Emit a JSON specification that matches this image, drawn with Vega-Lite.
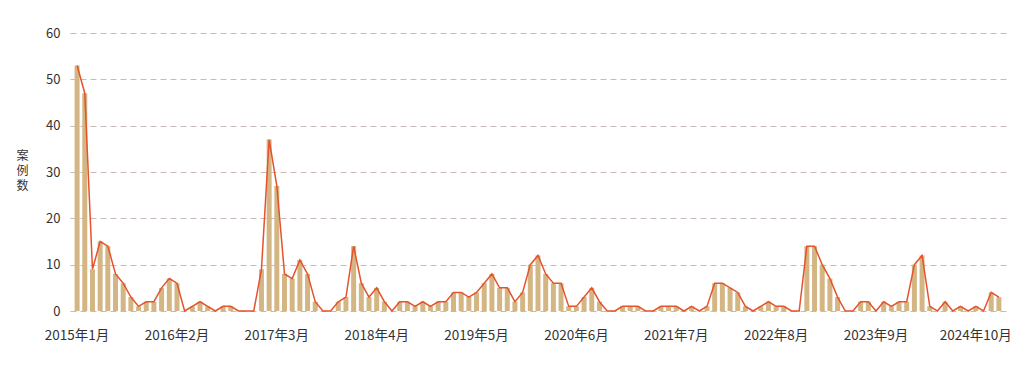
{
  "$schema": "https://vega.github.io/schema/vega-lite/v6.json",
  "width": 936,
  "height": 278,
  "autosize": {"type": "none"},
  "padding": {"left": 70, "top": 33, "right": 18, "bottom": 62},
  "background": "#ffffff",
  "config": {
    "view": {"stroke": null},
    "font": "Noto Sans CJK SC",
    "axis": {"labelFont": "Noto Sans CJK SC", "titleFont": "Noto Sans CJK SC", "labelColor": "#333333", "titleColor": "#333333"}
  },
  "data": {
    "values": [
      {"month": "2015年1月", "value": 53}, {"month": "2015年2月", "value": 47}, {"month": "2015年3月", "value": 9}, {"month": "2015年4月", "value": 15},
      {"month": "2015年5月", "value": 14}, {"month": "2015年6月", "value": 8}, {"month": "2015年7月", "value": 6}, {"month": "2015年8月", "value": 3},
      {"month": "2015年9月", "value": 1}, {"month": "2015年10月", "value": 2}, {"month": "2015年11月", "value": 2}, {"month": "2015年12月", "value": 5},
      {"month": "2016年1月", "value": 7}, {"month": "2016年2月", "value": 6}, {"month": "2016年3月", "value": 0}, {"month": "2016年4月", "value": 1},
      {"month": "2016年5月", "value": 2}, {"month": "2016年6月", "value": 1}, {"month": "2016年7月", "value": 0}, {"month": "2016年8月", "value": 1},
      {"month": "2016年9月", "value": 1}, {"month": "2016年10月", "value": 0}, {"month": "2016年11月", "value": 0}, {"month": "2016年12月", "value": 0},
      {"month": "2017年1月", "value": 9}, {"month": "2017年2月", "value": 37}, {"month": "2017年3月", "value": 27}, {"month": "2017年4月", "value": 8},
      {"month": "2017年5月", "value": 7}, {"month": "2017年6月", "value": 11}, {"month": "2017年7月", "value": 8}, {"month": "2017年8月", "value": 2},
      {"month": "2017年9月", "value": 0}, {"month": "2017年10月", "value": 0}, {"month": "2017年11月", "value": 2}, {"month": "2017年12月", "value": 3},
      {"month": "2018年1月", "value": 14}, {"month": "2018年2月", "value": 6}, {"month": "2018年3月", "value": 3}, {"month": "2018年4月", "value": 5},
      {"month": "2018年5月", "value": 2}, {"month": "2018年6月", "value": 0}, {"month": "2018年7月", "value": 2}, {"month": "2018年8月", "value": 2},
      {"month": "2018年9月", "value": 1}, {"month": "2018年10月", "value": 2}, {"month": "2018年11月", "value": 1}, {"month": "2018年12月", "value": 2},
      {"month": "2019年1月", "value": 2}, {"month": "2019年2月", "value": 4}, {"month": "2019年3月", "value": 4}, {"month": "2019年4月", "value": 3},
      {"month": "2019年5月", "value": 4}, {"month": "2019年6月", "value": 6}, {"month": "2019年7月", "value": 8}, {"month": "2019年8月", "value": 5},
      {"month": "2019年9月", "value": 5}, {"month": "2019年10月", "value": 2}, {"month": "2019年11月", "value": 4}, {"month": "2019年12月", "value": 10},
      {"month": "2020年1月", "value": 12}, {"month": "2020年2月", "value": 8}, {"month": "2020年3月", "value": 6}, {"month": "2020年4月", "value": 6},
      {"month": "2020年5月", "value": 1}, {"month": "2020年6月", "value": 1}, {"month": "2020年7月", "value": 3}, {"month": "2020年8月", "value": 5},
      {"month": "2020年9月", "value": 2}, {"month": "2020年10月", "value": 0}, {"month": "2020年11月", "value": 0}, {"month": "2020年12月", "value": 1},
      {"month": "2021年1月", "value": 1}, {"month": "2021年2月", "value": 1}, {"month": "2021年3月", "value": 0}, {"month": "2021年4月", "value": 0},
      {"month": "2021年5月", "value": 1}, {"month": "2021年6月", "value": 1}, {"month": "2021年7月", "value": 1}, {"month": "2021年8月", "value": 0},
      {"month": "2021年9月", "value": 1}, {"month": "2021年10月", "value": 0}, {"month": "2021年11月", "value": 1}, {"month": "2021年12月", "value": 6},
      {"month": "2022年1月", "value": 6}, {"month": "2022年2月", "value": 5}, {"month": "2022年3月", "value": 4}, {"month": "2022年4月", "value": 1},
      {"month": "2022年5月", "value": 0}, {"month": "2022年6月", "value": 1}, {"month": "2022年7月", "value": 2}, {"month": "2022年8月", "value": 1},
      {"month": "2022年9月", "value": 1}, {"month": "2022年10月", "value": 0}, {"month": "2022年11月", "value": 0}, {"month": "2022年12月", "value": 14},
      {"month": "2023年1月", "value": 14}, {"month": "2023年2月", "value": 10}, {"month": "2023年3月", "value": 7}, {"month": "2023年4月", "value": 3},
      {"month": "2023年5月", "value": 0}, {"month": "2023年6月", "value": 0}, {"month": "2023年7月", "value": 2}, {"month": "2023年8月", "value": 2},
      {"month": "2023年9月", "value": 0}, {"month": "2023年10月", "value": 2}, {"month": "2023年11月", "value": 1}, {"month": "2023年12月", "value": 2},
      {"month": "2024年1月", "value": 2}, {"month": "2024年2月", "value": 10}, {"month": "2024年3月", "value": 12}, {"month": "2024年4月", "value": 1},
      {"month": "2024年5月", "value": 0}, {"month": "2024年6月", "value": 2}, {"month": "2024年7月", "value": 0}, {"month": "2024年8月", "value": 1},
      {"month": "2024年9月", "value": 0}, {"month": "2024年10月", "value": 1}, {"month": "2024年11月", "value": 0}, {"month": "2024年12月", "value": 4},
      {"month": "2025年1月", "value": 3}
    ]
  },
  "encoding": {
    "x": {
      "field": "month",
      "type": "ordinal",
      "sort": null,
      "scale": {"paddingInner": 0.35, "paddingOuter": 0.6},
      "axis": {
        "title": null,
        "values": ["2015年1月", "2016年2月", "2017年3月", "2018年4月", "2019年5月", "2020年6月", "2021年7月", "2022年8月", "2023年9月", "2024年10月"],
        "labelAngle": 0,
        "ticks": false,
        "domain": false,
        "labelFontSize": 13.5,
        "labelPadding": 17
      }
    },
    "y": {
      "field": "value",
      "type": "quantitative",
      "scale": {"domain": [0, 60]},
      "axis": {
        "values": [0, 10, 20, 30, 40, 50, 60],
        "title": ["案", "例", "数"],
        "titleAngle": 0,
        "titleAlign": "center",
        "titleBaseline": "middle",
        "titleX": -48,
        "titleY": 122,
        "titleFontSize": 12,
        "titleFontWeight": "normal",
        "titleLineHeight": 15,
        "labelFontSize": 13,
        "labelPadding": 10,
        "ticks": false,
        "domain": false,
        "grid": true,
        "gridColor": "#c8bab7",
        "gridDash": [6, 4],
        "gridWidth": 1
      }
    }
  },
  "layer": [
    {"mark": {"type": "bar", "color": "#d3b684"}},
    {"mark": {"type": "line", "color": "#e4532c", "strokeWidth": 1.5}}
  ]
}
